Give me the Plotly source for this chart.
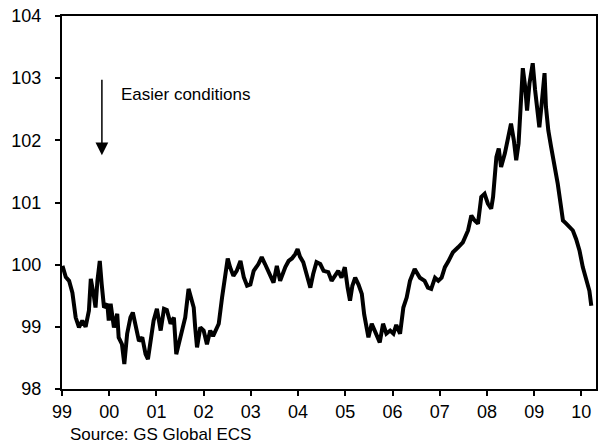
import plotly.graph_objects as go

# Decimal years and index values
years = [
    1999.01, 1999.08, 1999.15, 1999.22, 1999.29, 1999.36, 1999.43, 1999.50, 1999.57, 1999.61,
    1999.68, 1999.71, 1999.75, 1999.80, 1999.84, 1999.89, 1999.96, 1999.99, 2000.03, 2000.10,
    2000.17, 2000.20, 2000.27, 2000.32, 2000.38, 2000.45, 2000.50, 2000.57, 2000.63, 2000.70,
    2000.77, 2000.82, 2000.87, 2000.94, 2001.01, 2001.09, 2001.16, 2001.22, 2001.30, 2001.37,
    2001.42, 2001.47, 2001.54, 2001.61, 2001.68, 2001.75, 2001.79, 2001.82, 2001.86, 2001.93,
    2002.00, 2002.07, 2002.14, 2002.20, 2002.25, 2002.32, 2002.39, 2002.46, 2002.51, 2002.56,
    2002.63, 2002.70, 2002.78, 2002.85, 2002.92, 2002.99, 2003.06, 2003.16, 2003.23, 2003.30,
    2003.37, 2003.48, 2003.55, 2003.62, 2003.73, 2003.80, 2003.87, 2003.94, 2003.99, 2004.04,
    2004.11, 2004.18, 2004.26, 2004.32, 2004.39, 2004.47, 2004.54, 2004.64, 2004.71, 2004.78,
    2004.85, 2004.92, 2004.99, 2005.05, 2005.10, 2005.15, 2005.21, 2005.28, 2005.35, 2005.40,
    2005.45, 2005.49, 2005.56, 2005.63, 2005.70, 2005.73, 2005.80, 2005.87, 2005.95, 2006.02,
    2006.08, 2006.16, 2006.23, 2006.30, 2006.37, 2006.47, 2006.58, 2006.68, 2006.75, 2006.82,
    2006.90, 2006.97, 2007.04, 2007.11, 2007.18, 2007.28, 2007.39, 2007.49, 2007.60, 2007.67,
    2007.74, 2007.81, 2007.88, 2007.95, 2008.02, 2008.09, 2008.13, 2008.20, 2008.25, 2008.30,
    2008.38, 2008.44, 2008.51, 2008.57, 2008.62, 2008.67, 2008.71, 2008.76, 2008.81, 2008.85,
    2008.90, 2008.97, 2009.02, 2009.08, 2009.11, 2009.16, 2009.22, 2009.25, 2009.30, 2009.36,
    2009.43, 2009.50, 2009.56, 2009.61, 2009.68, 2009.75, 2009.82, 2009.89, 2009.96, 2010.03,
    2010.10, 2010.17, 2010.21,
]
fci = [
    99.98, 99.80, 99.74, 99.55, 99.15, 98.99, 99.10, 99.00, 99.26, 99.77,
    99.47, 99.31, 99.74, 100.06, 99.69, 99.31, 99.37, 99.10, 99.37, 98.99,
    99.21, 98.83, 98.72, 98.40, 98.89, 99.15, 99.23, 98.99, 98.77, 98.83,
    98.56, 98.48, 98.77, 99.10, 99.29, 98.94, 99.29, 99.27, 99.05, 99.15,
    98.56, 98.72, 98.99, 99.15, 99.61, 99.42, 99.31, 99.00, 98.67, 98.99,
    98.94, 98.72, 98.94, 98.85, 98.94, 99.05, 99.47, 99.80, 100.10, 99.96,
    99.82, 99.90, 100.06, 99.80, 99.66, 99.68, 99.90, 100.01, 100.12, 100.01,
    99.88, 99.71, 99.98, 99.74, 99.96, 100.06, 100.10, 100.17, 100.25, 100.13,
    100.04, 99.85, 99.63, 99.85, 100.04, 100.01, 99.90, 99.88, 99.74, 99.82,
    99.90, 99.79, 99.96, 99.63, 99.42, 99.66, 99.79, 99.68, 99.53, 99.20,
    98.94, 98.83, 99.05, 98.94, 98.83, 98.75, 99.05, 98.89, 98.94, 98.89,
    99.03, 98.89, 99.31, 99.47, 99.74, 99.93, 99.79, 99.74, 99.63, 99.61,
    99.79, 99.74, 99.79, 99.96, 100.05, 100.20, 100.28, 100.36, 100.55, 100.79,
    100.71, 100.66, 101.09, 101.14, 100.98, 100.90, 101.09, 101.73, 101.87, 101.57,
    101.79, 102.00, 102.27, 102.00, 101.68, 101.95, 102.65, 103.16, 102.86, 102.48,
    102.91, 103.24, 102.81, 102.48, 102.21, 102.59, 103.08, 102.54, 102.16, 101.89,
    101.62, 101.30, 100.98, 100.71, 100.66, 100.60, 100.55, 100.41, 100.23, 99.96,
    99.74, 99.58, 99.34,
]

tick_years = [1999, 2000, 2001, 2002, 2003, 2004, 2005, 2006, 2007, 2008, 2009, 2010]
tick_labels = ["99", "00", "01", "02", "03", "04", "05", "06", "07", "08", "09", "10"]
y_ticks = [98, 99, 100, 101, 102, 103, 104]

FONT = "Liberation Sans, Arial, sans-serif"

fig = go.Figure()
fig.add_trace(go.Scatter(
    x=years, y=fci, mode="lines",
    line=dict(color="black", width=4),
    hoverinfo="skip", showlegend=False,
))

fig.update_layout(
    width=600, height=447,
    margin=dict(l=62, r=2, t=16, b=58),
    paper_bgcolor="white", plot_bgcolor="white",
    font=dict(family=FONT, size=18, color="black"),
    showlegend=False,
    xaxis=dict(
        range=[1999, 2010.31],
        tickmode="array", tickvals=tick_years, ticktext=tick_labels,
        ticks="outside", ticklen=5, tickwidth=1.5, tickcolor="black",
        showline=True, linecolor="black", linewidth=2, mirror=True,
        showgrid=False, zeroline=False,
        tickfont=dict(size=18),
    ),
    yaxis=dict(
        range=[98, 104],
        tickmode="array", tickvals=y_ticks,
        ticks="outside", ticklen=5, tickwidth=1.5, tickcolor="black",
        showline=True, linecolor="black", linewidth=2, mirror=True,
        showgrid=False, zeroline=False,
        tickfont=dict(size=18),
        ticklabelstandoff=10,
    ),
    annotations=[
        dict(
            x=1999.845, y=101.76, ax=1999.845, ay=103.0,
            xref="x", yref="y", axref="x", ayref="y",
            showarrow=True, arrowhead=2, arrowsize=1.7, arrowwidth=1.5,
            arrowcolor="black", text="",
        ),
        dict(
            x=2000.20, y=102.73, xref="x", yref="y",
            text="Easier conditions", showarrow=False,
            xanchor="left", yanchor="middle",
            font=dict(size=17, family=FONT, color="black"),
        ),
        dict(
            x=0.011, y=-0.123, xref="paper", yref="paper",
            text="Source: GS Global ECS", showarrow=False,
            xanchor="left", yanchor="middle",
            font=dict(size=17, family=FONT, color="black"),
        ),
    ],
)

fig.write_html(
    "out.html",
    config={"displayModeBar": False},
    post_script="document.body.style.margin='0';document.body.style.overflow='hidden';",
)
